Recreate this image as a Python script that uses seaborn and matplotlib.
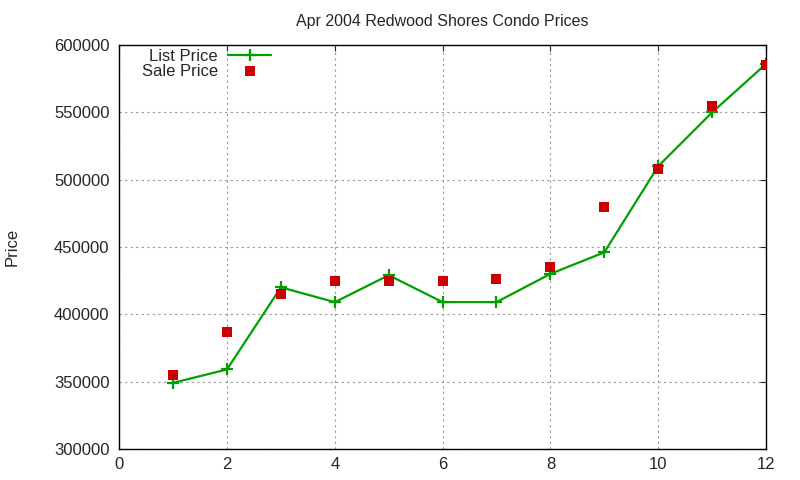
import pandas as pd
import matplotlib
matplotlib.use("Agg")
import matplotlib.pyplot as plt
import seaborn as sns

# Daten
months = [1, 2, 3, 4, 5, 6, 7, 8, 9, 10, 11, 12]
list_price = [349000, 359000, 420000, 409000, 429000, 409000, 409000, 430000, 446000, 510000, 550000, 586000]
sale_price = [355000, 387000, 415000, 425000, 425000, 425000, 426000, 435000, 480000, 508000, 555000, 585000]

df = pd.DataFrame({"Month": months, "List Price": list_price, "Sale Price": sale_price})

sns.set_style("white")
plt.rcParams["font.family"] = ["Liberation Sans", "DejaVu Sans"]

fig = plt.figure(figsize=(8, 4.8), dpi=100)
ax = fig.add_axes([0.149, 0.065, 0.8085, 0.841])

sns.lineplot(data=df, x="Month", y="List Price", ax=ax, color="#00a000", linewidth=1.6,
             marker="+", markersize=8, markeredgewidth=1.6, markeredgecolor="#00a000",
             label="List Price")
sns.scatterplot(data=df, x="Month", y="Sale Price", ax=ax, color="#cc0000", marker="s",
                s=45, linewidth=0, label="Sale Price", zorder=3)

ax.set_xlim(0, 12)
ax.set_ylim(300000, 600000)
ax.set_xticks(range(0, 13, 2))
ax.set_yticks(range(300000, 600001, 50000))
ax.ticklabel_format(axis="y", style="plain")
ax.tick_params(labelsize=12, direction="in", length=4, which="both", top=True, right=True)
ax.tick_params(axis="y", pad=7)
ax.tick_params(axis="x", pad=6)
ax.set_xlabel("")
ax.set_ylabel("Price", fontsize=12, va="center")
ax.yaxis.set_label_coords(-0.165, 0.5)
ax.set_title("Apr 2004 Redwood Shores Condo Prices", fontsize=11.5, pad=14)

ax.grid(True, linestyle=(0, (2, 3)), linewidth=0.8, color="#999999")
for sp in ax.spines.values():
    sp.set_color("black")
    sp.set_linewidth(1)

ax.legend(loc="upper left", bbox_to_anchor=(0.017, 1.02), frameon=False, markerfirst=False,
          fontsize=12, handlelength=2.6, handletextpad=0.6, borderaxespad=0.3, labelspacing=0.0)

fig.savefig("out.png", dpi=100)
